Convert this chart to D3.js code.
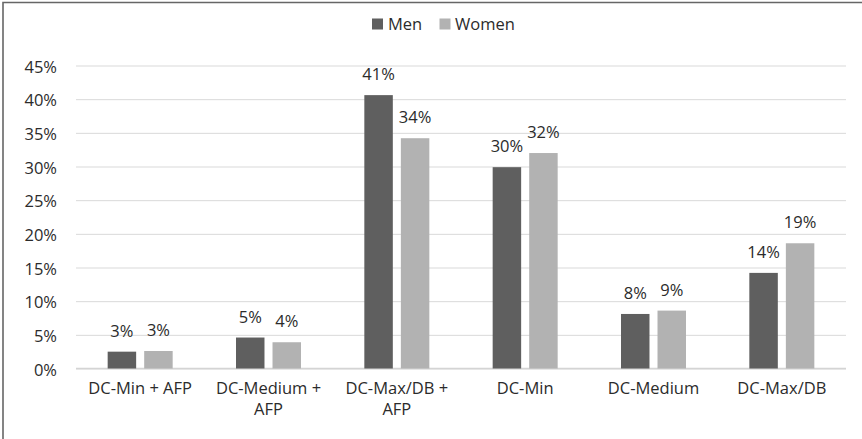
<!DOCTYPE html>
<html>
<head>
<meta charset="utf-8">
<script src="https://cdn.jsdelivr.net/npm/d3@7"></script>
<style>
  html, body { margin: 0; padding: 0; background: #fff; }
  svg { display: block; font-family: "Open Sans", sans-serif; }
</style>
</head>
<body>
<svg id="chart" width="862" height="439"></svg>
<script>
// Share of participants per plan type, by gender (percent)
const categories = ["DC-Min + AFP", "DC-Medium + AFP", "DC-Max/DB + AFP", "DC-Min", "DC-Medium", "DC-Max/DB"];
const seriesNames = ["Men", "Women"];
const menValues = [2.5, 4.6, 40.6, 29.9, 8.1, 14.2];
const womenValues = [2.6, 3.9, 34.2, 32.0, 8.6, 18.6];
const yTicks = [0, 5, 10, 15, 20, 25, 30, 35, 40, 45];
const colors = { Men: "#5f5f5f", Women: "#b2b2b2" };

const seriesValues = { Men: menValues, Women: womenValues };
const rows = categories.map((c, i) => ({
  category: c,
  values: seriesNames.map(s => ({ key: s, value: seriesValues[s][i] }))
}));

const svg = d3.select("#chart");
const textColor = "#2b2b2b";
const fontSize = 16.5;

// frame along the left and top edges
svg.append("path")
  .attr("d", "M3,439 V2.5 H862")
  .attr("fill", "none")
  .attr("stroke", "#666")
  .attr("stroke-width", 1.6);

const plot = { left: 76, right: 846, top: 65.5, bottom: 368.5 };

const x0 = d3.scaleBand().domain(categories).range([plot.left, plot.right]).padding(0);
const groupW = 65;
const x1 = d3.scaleBand().domain(seriesNames)
  .range([(x0.bandwidth() - groupW) / 2, (x0.bandwidth() + groupW) / 2])
  .paddingInner(0.22).paddingOuter(0);
const y = d3.scaleLinear().domain([0, 45]).range([plot.bottom, plot.top]);

// gridlines and y labels
const yAxis = d3.axisLeft(y).tickValues(yTicks)
  .tickSize(-(plot.right - plot.left))
  .tickPadding(19)
  .tickFormat(d => d + "%");
const gy = svg.append("g").attr("transform", `translate(${plot.left},0)`).call(yAxis);
gy.select(".domain").remove();
gy.selectAll(".tick line").attr("stroke", "#d9d9d9").attr("stroke-width", 1);
gy.selectAll(".tick text")
  .attr("fill", textColor)
  .attr("font-size", fontSize)
  .attr("font-family", "Open Sans, sans-serif")
  .attr("dy", "0.4em");

// baseline
svg.append("line")
  .attr("x1", plot.left).attr("x2", plot.right)
  .attr("y1", y(0)).attr("y2", y(0))
  .attr("stroke", "#d4d4d4").attr("stroke-width", 1.6);

// bars
const groups = svg.append("g").selectAll("g").data(rows).join("g")
  .attr("transform", d => `translate(${x0(d.category)},0)`);

groups.selectAll("rect").data(d => d.values).join("rect")
  .attr("x", d => x1(d.key))
  .attr("width", x1.bandwidth())
  .attr("y", d => y(d.value))
  .attr("height", d => y(0) - y(d.value))
  .attr("fill", d => colors[d.key]);

// value labels
groups.selectAll("text.val").data(d => d.values).join("text")
  .attr("class", "val")
  .attr("x", d => x1(d.key) + x1.bandwidth() / 2)
  .attr("y", d => y(d.value) - 15)
  .attr("text-anchor", "middle")
  .attr("font-size", fontSize)
  .attr("fill", textColor)
  .text(d => Math.round(d.value) + "%");

// category labels, wrapped to the band width
const maxW = x0.bandwidth() - 8;
const catG = svg.append("g");
categories.forEach(c => {
  const cx = x0(c) + x0.bandwidth() / 2;
  const t = catG.append("text")
    .attr("x", cx)
    .attr("y", 394)
    .attr("text-anchor", "middle")
    .attr("font-size", fontSize)
    .attr("fill", textColor);
  const words = c.split(" ");
  let line = [];
  let tspan = t.append("tspan").attr("x", cx).attr("dy", 0);
  words.forEach(w => {
    line.push(w);
    tspan.text(line.join(" "));
    if (tspan.node().getComputedTextLength() > maxW && line.length > 1) {
      line.pop();
      tspan.text(line.join(" "));
      line = [w];
      tspan = t.append("tspan").attr("x", cx).attr("dy", 21).text(w);
    }
  });
});

// legend
const legend = svg.append("g");
const legendItems = [
  { key: "Men", sx: 372, tx: 388 },
  { key: "Women", sx: 439.5, tx: 455 }
];
legendItems.forEach(it => {
  legend.append("rect")
    .attr("x", it.sx).attr("y", 18.5)
    .attr("width", 11).attr("height", 11)
    .attr("fill", colors[it.key]);
  legend.append("text")
    .attr("x", it.tx).attr("y", 30)
    .attr("font-size", fontSize)
    .attr("fill", textColor)
    .text(it.key);
});
</script>
</body>
</html>
